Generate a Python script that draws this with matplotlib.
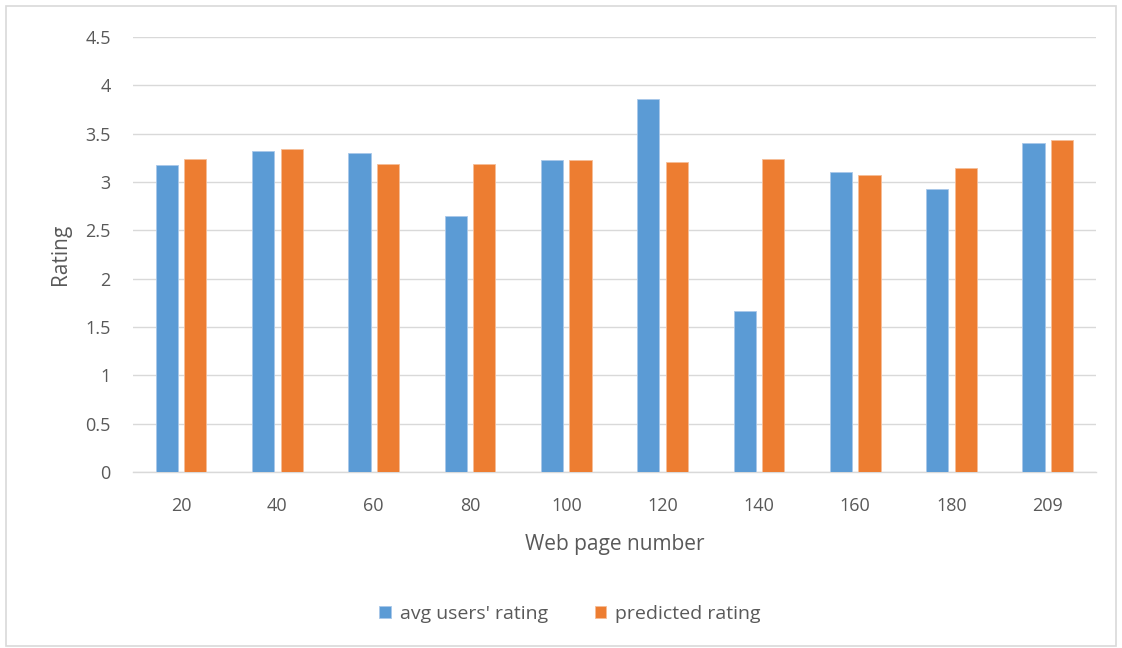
import matplotlib
matplotlib.use("Agg")
import matplotlib.pyplot as plt
import numpy as np
from matplotlib.patches import Rectangle

pages = ["20", "40", "60", "80", "100", "120", "140", "160", "180", "209"]
avg_users = [3.18, 3.32, 3.30, 2.65, 3.23, 3.86, 1.67, 3.10, 2.93, 3.40]
predicted = [3.24, 3.34, 3.19, 3.19, 3.23, 3.21, 3.24, 3.07, 3.15, 3.43]
yticks = [0, 0.5, 1, 1.5, 2, 2.5, 3, 3.5, 4, 4.5]

blue = "#5b9bd5"
orange = "#ed7d31"
text_gray = "#595959"
grid_gray = "#d9d9d9"

plt.rcParams['font.family'] = ['Open Sans', 'DejaVu Sans']

fig = plt.figure(figsize=(11.22, 6.48), dpi=100)
ax = fig.add_axes([0.1185, 0.2716, 0.8583, 0.6713])

x = np.arange(len(pages))
w = 0.23
off = 0.148
ax.bar(x - off, avg_users, width=w, color=blue, edgecolor="#a9c8ea", linewidth=0.6,
       label="avg users' rating", zorder=3)
ax.bar(x + off, predicted, width=w, color=orange, edgecolor="#f6bd98", linewidth=0.6,
       label="predicted rating", zorder=3)

ax.set_xlim(-0.5, len(pages) - 0.5)
ax.set_ylim(0, 4.5)
ax.set_yticks(yticks)
ax.set_yticklabels([f"{t:g}" for t in yticks])
ax.set_xticks(x)
ax.set_xticklabels(pages)
ax.grid(axis="y", color=grid_gray, linewidth=1.0, zorder=0)
for s in ["top", "right", "left"]:
    ax.spines[s].set_visible(False)
ax.spines["bottom"].set_color(grid_gray)
ax.spines["bottom"].set_linewidth(1.0)
ax.tick_params(axis="both", length=0, labelsize=13, colors=text_gray)
ax.tick_params(axis="y", pad=16)
ax.tick_params(axis="x", pad=18)

ax.set_xlabel("Web page number", fontsize=15, color=text_gray, labelpad=14)
ax.set_ylabel("Rating", fontsize=15, color=text_gray, labelpad=10)

leg = fig.legend(loc="center", bbox_to_anchor=(0.508, 0.053), ncol=2, frameon=False,
                 fontsize=14, handlelength=0.6, handleheight=0.6, columnspacing=2.4,
                 handletextpad=0.45)
for t in leg.get_texts():
    t.set_color(text_gray)

fig.patches.append(Rectangle((0.005, 0.003), 0.99, 0.987, transform=fig.transFigure,
                             fill=False, edgecolor="#d9d9d9", linewidth=1.2))

fig.savefig("out.png", dpi=100, facecolor="white")
